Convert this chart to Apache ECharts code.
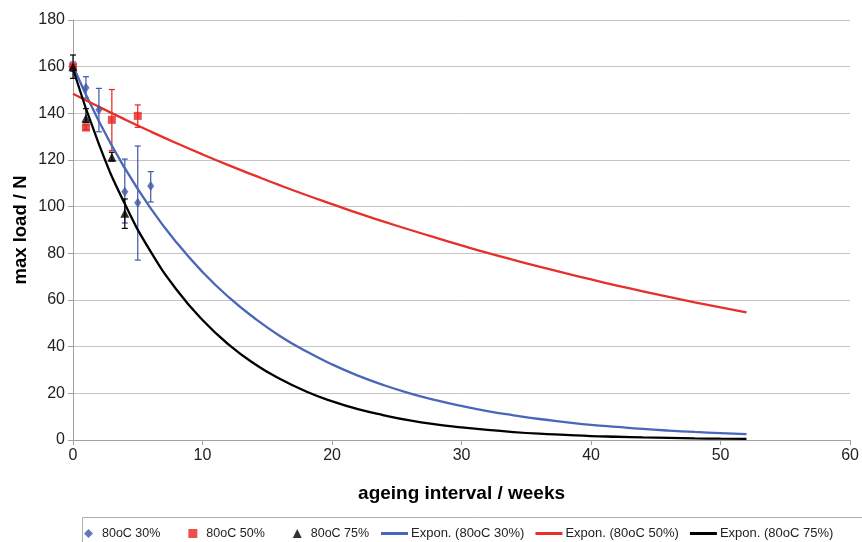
<!DOCTYPE html>
<html><head><meta charset="utf-8">
<script src="https://cdn.jsdelivr.net/npm/echarts@6/dist/echarts.min.js"></script>
<style>html,body{margin:0;padding:0;background:#fff}#c{width:862px;height:542px}</style>
</head><body><div id="c"></div>
<script>
// Measured data (weeks, max load / N)
const weeks30 = [0, 1, 2, 4, 5, 6];
const load30 = [160, 151, 141.5, 106.4, 101.7, 108.9];
const hi30 = [162, 155.7, 150.7, 120.4, 126, 115];
const lo30 = [158, 146.5, 132.1, 93, 77.1, 102];

const weeks50 = [0, 1, 3, 5];
const load50 = [160, 133.9, 137.2, 138.9];
const hi50 = [161, 135, 150.2, 143.6];
const lo50 = [159, 133, 124, 134];

const weeks75 = [0, 1, 3, 4];
const load75 = [160, 137.9, 121.2, 97.2];
const hi75 = [165, 142, 123.3, 103.3];
const lo75 = [155, 136, 119.6, 90.7];

// Trendlines (every 2 weeks)
const trendWeeks = [0, 2, 4, 6, 8, 10, 12, 14, 16, 18, 20, 22, 24, 26, 28, 30, 32, 34, 36, 38, 40, 42, 44, 46, 48, 50, 52];
const trend30 = [160.3, 136.6, 116.5, 99.3, 84.6, 72.0, 61.3, 52.3, 44.5, 38.0, 32.4, 27.6, 23.5, 20.0, 17.1, 14.6, 12.4, 10.6, 9.0, 7.7, 6.5, 5.6, 4.75, 4.05, 3.45, 2.95, 2.5];
const trend50 = [148.4, 142.8, 137.4, 132.2, 127.2, 122.4, 117.8, 113.4, 109.1, 105.0, 101.1, 97.2, 93.6, 90.1, 86.7, 83.4, 80.2, 77.2, 74.3, 71.5, 68.8, 66.2, 63.7, 61.3, 59.0, 56.8, 54.7];
const trend75 = [159, 126.8, 101.2, 80.7, 64.4, 51.4, 41.0, 32.7, 26.1, 20.8, 16.6, 13.2, 10.6, 8.4, 6.7, 5.4, 4.3, 3.4, 2.7, 2.2, 1.7, 1.4, 1.1, 0.9, 0.7, 0.56, 0.45];

const xTicks = [0, 10, 20, 30, 40, 50, 60];
const yTicks = [0, 20, 40, 60, 80, 100, 120, 140, 160, 180];

const names = ['80oC 30%', '80oC 50%', '80oC 75%', 'Expon. (80oC 30%)', 'Expon. (80oC 50%)', 'Expon. (80oC 75%)'];
const cBlue = '#3f56a8', cRed = '#e8231e', cBlack = '#000000';
const cBlueLine = '#4a66b8', cRedLine = '#e6302a';

const pts = (xs, ys) => xs.map((x, i) => [x, ys[i]]);
const errs = (xs, lo, hi) => xs.map((x, i) => [x, lo[i], hi[i]]);

function errSeries(data, color) {
  return {
    type: 'custom', silent: true, z: 3,
    data: data,
    encode: { x: 0, y: [1, 2] },
    renderItem: function (params, api) {
      const x = api.value(0);
      const lo = api.coord([x, api.value(1)]);
      const hi = api.coord([x, api.value(2)]);
      const w = 3;
      const st = { stroke: color, lineWidth: 1.2 };
      return {
        type: 'group',
        children: [
          { type: 'line', shape: { x1: lo[0], y1: lo[1], x2: hi[0], y2: hi[1] }, style: st },
          { type: 'line', shape: { x1: lo[0] - w, y1: lo[1], x2: lo[0] + w, y2: lo[1] }, style: st },
          { type: 'line', shape: { x1: hi[0] - w, y1: hi[1], x2: hi[0] + w, y2: hi[1] }, style: st }
        ]
      };
    }
  };
}

const chart = echarts.init(document.getElementById('c'), null, { renderer: 'canvas' });
const font = 'Liberation Sans, Arial, sans-serif';
chart.setOption({
  animation: false,
  backgroundColor: '#ffffff',
  textStyle: { fontFamily: font },
  grid: { left: 73, right: 9, top: 20, bottom: 102, containLabel: false },
  xAxis: {
    type: 'value', min: xTicks[0], max: xTicks[xTicks.length - 1], interval: 10,
    name: 'ageing interval / weeks', nameLocation: 'middle', nameGap: 44,
    nameTextStyle: { fontSize: 19, fontWeight: 'bold', color: '#000', fontFamily: font },
    axisLine: { show: true, lineStyle: { color: '#a0a0a0', width: 1 } },
    axisTick: { show: true, length: 5, lineStyle: { color: '#a0a0a0' } },
    axisLabel: { fontSize: 16, color: '#222', margin: 8, fontFamily: font },
    splitLine: { show: false }
  },
  yAxis: {
    type: 'value', min: yTicks[0], max: yTicks[yTicks.length - 1], interval: 20,
    name: 'max load / N', nameLocation: 'middle', nameGap: 43, nameRotate: 90,
    nameMoveOverlap: false,
    nameTextStyle: { fontSize: 18.5, fontWeight: 'bold', color: '#000', fontFamily: font },
    axisLine: { show: true, lineStyle: { color: '#a0a0a0', width: 1 } },
    axisTick: { show: true, length: 5, lineStyle: { color: '#a0a0a0' } },
    axisLabel: { fontSize: 16, color: '#222', margin: 8, fontFamily: font },
    splitLine: { show: true, lineStyle: { color: '#c4c4c4', width: 1 } }
  },
  graphic: [{
    type: 'rect', left: 82, top: 517, z: -1,
    shape: { width: 800, height: 40 },
    style: { fill: '#fff', stroke: '#b0b0b0', lineWidth: 1 }
  }],
  legend: [{
    left: 84, top: 527, itemGap: 28, padding: 0,
    itemWidth: 9, itemHeight: 9,
    textStyle: { fontSize: 12.5, color: '#222', fontFamily: font, padding: [0, 0, 0, 4] },
    data: [
      { name: names[0], icon: 'diamond' },
      { name: names[1], icon: 'rect' },
      { name: names[2], icon: 'triangle' }
    ]
  }, {
    left: 381, top: 527, itemGap: 11, padding: 0,
    itemWidth: 27, itemHeight: 3,
    textStyle: { fontSize: 13, color: '#222', fontFamily: font, padding: [0, 0, 0, -2] },
    data: [
      { name: names[3], icon: 'rect' },
      { name: names[4], icon: 'rect' },
      { name: names[5], icon: 'rect' }
    ]
  }],
  series: [
    { name: names[0], type: 'scatter', data: pts(weeks30, load30), symbol: 'diamond', symbolSize: [7, 10], itemStyle: { color: cBlue }, z: 5 },
    { name: names[1], type: 'scatter', data: pts(weeks50, load50), symbol: 'rect', symbolSize: 8, itemStyle: { color: cRed }, z: 5 },
    { name: names[2], type: 'scatter', data: pts(weeks75, load75), symbol: 'triangle', symbolSize: 9, itemStyle: { color: cBlack }, z: 5 },
    { name: names[3], type: 'line', data: pts(trendWeeks, trend30), smooth: true, showSymbol: false, lineStyle: { color: cBlueLine, width: 2.3 }, itemStyle: { color: cBlueLine }, z: 4 },
    { name: names[4], type: 'line', data: pts(trendWeeks, trend50), smooth: true, showSymbol: false, lineStyle: { color: cRedLine, width: 2.3 }, itemStyle: { color: cRedLine }, z: 4 },
    { name: names[5], type: 'line', data: pts(trendWeeks, trend75), smooth: true, showSymbol: false, lineStyle: { color: cBlack, width: 2.3 }, itemStyle: { color: cBlack }, z: 4 },
    errSeries(errs(weeks30, lo30, hi30), cBlue),
    errSeries(errs(weeks50, lo50, hi50), cRed),
    errSeries(errs(weeks75, lo75, hi75), cBlack)
  ]
});
</script></body></html>
